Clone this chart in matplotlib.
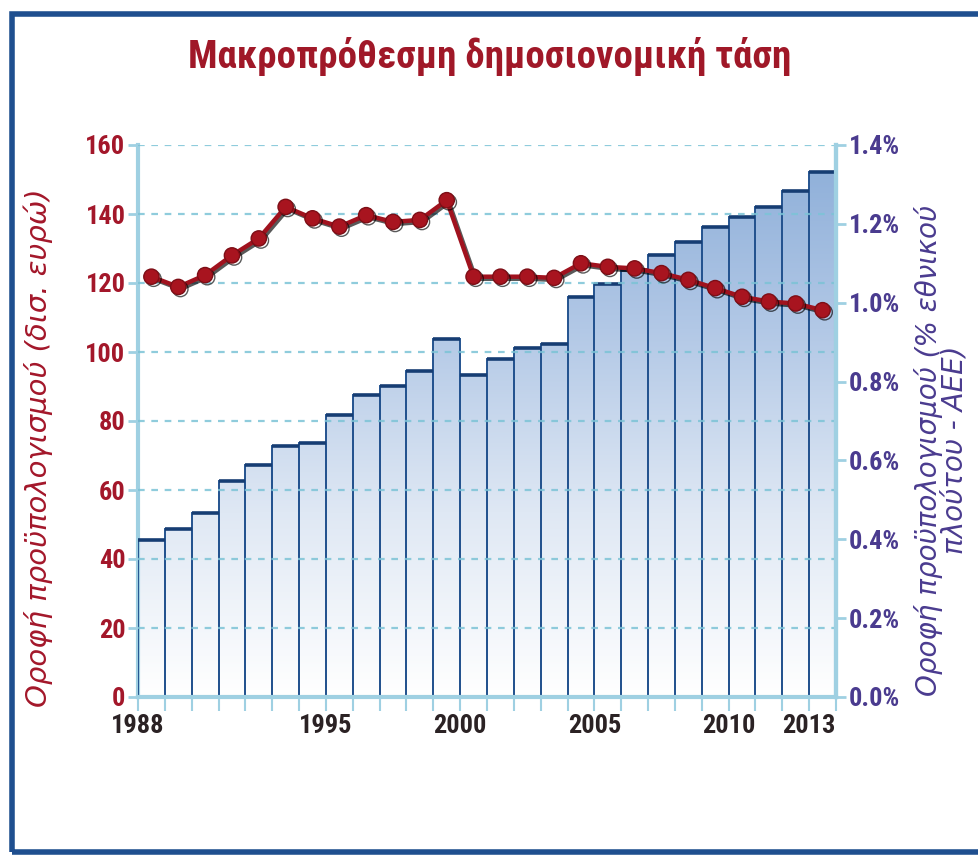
import matplotlib
matplotlib.use('Agg')
import matplotlib.pyplot as plt
import numpy as np
from matplotlib import font_manager as fm
from matplotlib.patches import Rectangle
from matplotlib.colors import LinearSegmentedColormap
import matplotlib.patheffects as pe

# ---- data ----
years = list(range(1988, 2014))
budget_bn = [45.5, 48.7, 53.4, 62.6, 67.3, 72.8, 73.5, 81.7, 87.5, 90.2, 94.6, 103.8,
             93.4, 98.0, 101.3, 102.3, 116.0, 119.6, 123.8, 128.1, 131.8, 136.3,
             139.2, 141.9, 146.7, 152.1]
ceiling_pct = [1.066, 1.040, 1.070, 1.120, 1.163, 1.243, 1.214, 1.193, 1.222, 1.205,
               1.210, 1.260, 1.066, 1.066, 1.066, 1.063, 1.100, 1.091, 1.087, 1.075,
               1.058, 1.037, 1.015, 1.003, 0.998, 0.981]
left_ticks = [0, 20, 40, 60, 80, 100, 120, 140, 160]
right_ticks = [0.0, 0.2, 0.4, 0.6, 0.8, 1.0, 1.2, 1.4]
right_labels = ['0.0%', '0.2%', '0.4%', '0.6%', '0.8%', '1.0%', '1.2%', '1.4%']
xtick_years = [1988, 1995, 2000, 2005, 2010, 2013]

title = 'Μακροπρόθεσμη δημοσιονομική τάση'
ylabel_left = 'Οροφή προϋπολογισμού (δισ. ευρώ)'
ylabel_right = 'Οροφή προϋπολογισμού (% εθνικού\nπλούτου - ΑΕΕ)'


def pick(names):
    for n in names:
        try:
            fm.findfont(fm.FontProperties(family=n), fallback_to_default=False)
            return n
        except Exception:
            pass
    return 'DejaVu Sans'


narrow = pick(['Liberation Sans Narrow', 'Roboto Condensed', 'Liberation Sans'])
wide = 'DejaVu Sans'

RED = '#a3172a'
PURPLE = '#4a3b8f'
DARK = '#2b2224'
LBLUE = '#9fd0e2'
GRID = '#7cc3d6'
NAVY = '#24538f'

fig = plt.figure(figsize=(9.79, 8.57), dpi=100)
fig.patch.set_facecolor('white')

# outer frame
fig.patches.append(Rectangle((12 / 979, 1 - 852 / 857), 1.2, (852 - 14) / 857,
                             transform=fig.transFigure, fill=False,
                             edgecolor='#1f4f8f', linewidth=4, zorder=0))

ax = fig.add_axes([138 / 979, 1 - 697 / 857, (836 - 138) / 979, (697 - 145) / 857])
ax.set_xlim(1988, 2014)
ax.set_ylim(0, 160)

# bars with vertical gradient
cmap = LinearSegmentedColormap.from_list('g', ['#ffffff', '#dfe8f4', '#b2c8e6', '#8badd8'])
grad = np.linspace(0, 1, 256).reshape(-1, 1)
bars = ax.bar(years, budget_bn, width=1.0, align='edge', facecolor='none',
              edgecolor=NAVY, linewidth=1.4, zorder=3)
for b in bars:
    im = ax.imshow(grad, extent=[1988, 2014, 0, 160], origin='lower', aspect='auto',
                   cmap=cmap, zorder=2, interpolation='bicubic')
    im.set_clip_path(b)
# thicker top edges
for x, h in zip(years, budget_bn):
    ax.plot([x, x + 1], [h, h], color='#163d73', lw=2.6, zorder=4, solid_capstyle='butt')

# grid
for t in left_ticks[1:]:
    ax.axhline(t, color=GRID, lw=1.6, ls=(0, (3, 3)), zorder=5, alpha=0.85)

ax.spines['top'].set_visible(False)
for s in ['left', 'right', 'bottom']:
    ax.spines[s].set_color(LBLUE)
    ax.spines[s].set_linewidth(3)
ax.spines['bottom'].set_zorder(6)

ax.set_yticks(left_ticks)
ax.set_yticklabels([str(t) for t in left_ticks])
ax.tick_params(axis='y', colors=LBLUE, length=7, width=2, labelcolor=RED,
               labelsize=19, pad=2)
for lbl in ax.get_yticklabels():
    lbl.set_fontfamily(narrow)
    lbl.set_fontweight('bold')

ax.set_xticks(xtick_years)
ax.set_xticklabels([str(y) for y in xtick_years])
ax.set_xticks(years + [2014], minor=True)
ax.tick_params(axis='x', which='both', colors=LBLUE, length=10, width=1.5,
               labelcolor=DARK, labelsize=19, pad=2)
for lbl in ax.get_xticklabels():
    lbl.set_fontfamily(narrow)
    lbl.set_fontweight('bold')

# line on right axis
ax2 = ax.twinx()
ax2.set_ylim(0, 1.4)
ax2.plot([y + 0.5 for y in years], ceiling_pct, color='#a0121e', lw=3.2,
         marker='o', markersize=11, markerfacecolor='#a8141f', markeredgecolor='#7d0e16',
         markeredgewidth=1, zorder=10,
         path_effects=[pe.SimpleLineShadow(offset=(1.5, -1.5), shadow_color='black', alpha=0.65),
                       pe.Normal()])
for s in ['top', 'left', 'bottom']:
    ax2.spines[s].set_visible(False)
ax2.spines['right'].set_color(LBLUE)
ax2.spines['right'].set_linewidth(3)
ax2.set_yticks(right_ticks)
ax2.set_yticklabels(right_labels)
ax2.tick_params(axis='y', colors=LBLUE, length=7, width=2, labelcolor=PURPLE,
                labelsize=19, pad=2)
for lbl in ax2.get_yticklabels():
    lbl.set_fontfamily(narrow)
    lbl.set_fontweight('bold')

# texts
fig.text(490 / 979, 1 - 57 / 857, title, ha='center', va='center', color='#a01828',
         fontsize=28, fontweight='bold', fontfamily=narrow)
fig.text(38 / 979, 1 - 448 / 857, ylabel_left, rotation=90, ha='center', va='center',
         color=RED, fontsize=21, fontstyle='italic', fontfamily=wide)
fig.text(941 / 979, 1 - 450 / 857, ylabel_right, rotation=90, ha='center', va='center',
         color=PURPLE, fontsize=20, fontstyle='italic', fontfamily=wide,
         multialignment='center', linespacing=0.9)

fig.savefig('out.png', dpi=100, facecolor='white')
